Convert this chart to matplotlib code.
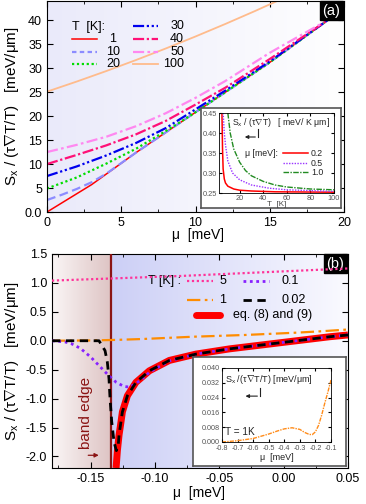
import numpy as np
import matplotlib
matplotlib.use('Agg')
import matplotlib.pyplot as plt
from matplotlib.ticker import MultipleLocator, FixedLocator, FixedFormatter

plt.rcParams['font.family'] = ['Liberation Sans', 'DejaVu Sans']
plt.rcParams['mathtext.fontset'] = 'custom'
plt.rcParams['mathtext.rm'] = 'Liberation Sans'
plt.rcParams['mathtext.it'] = 'Liberation Sans:italic'

# ---- panel (a): S_x/(tau grad T / T) vs mu, several temperatures ----
mu_T1 = [0, 3, 6, 10, 15, 18.9]
S_T1 = [0.0, 5.7, 12.4, 20.8, 31.2, 40.0]
mu_T10 = [0, 1, 2, 3, 4, 6, 10, 15, 18.9]
S_T10 = [2.5, 3.6, 4.8, 6.2, 8.0, 12.4, 20.8, 31.2, 40.0]
mu_T20 = [0, 2, 4, 6, 8, 9, 10, 15, 18.9]
S_T20 = [4.9, 7.2, 10.1, 13.2, 16.9, 18.8, 20.8, 31.2, 40.0]
mu_T30 = [0, 2, 4, 6, 8, 10, 12, 15, 18.9]
S_T30 = [7.5, 9.5, 11.8, 14.4, 17.5, 21.4, 25.3, 31.4, 40.0]
mu_T40 = [0, 2, 4, 6, 8, 10, 12, 15, 18.9]
S_T40 = [10.0, 11.9, 13.9, 16.2, 19.0, 22.4, 25.9, 31.9, 40.0]
mu_T50 = [0, 2, 4, 6, 8, 10, 12, 15, 18.6]
S_T50 = [12.5, 14.0, 15.7, 17.9, 20.6, 23.8, 27.3, 33.2, 39.5]
mu_T100 = [0, 2, 4, 6, 8, 10, 12, 14, 16]
S_T100 = [25.1, 27.2, 29.4, 31.7, 34.1, 36.6, 39.2, 41.9, 44.7]

# inset (a): S_x/(tau grad T) vs T
T_mu02 = [5, 5.5, 6, 7, 8, 10, 15, 20, 30, 50, 100]
S_mu02 = [0.45, 0.36, 0.31, 0.285, 0.275, 0.267, 0.26, 0.257, 0.255, 0.253, 0.252]
T_mu05 = [6, 7, 8, 10, 14, 20, 30, 45, 60, 100]
S_mu05 = [0.45, 0.40, 0.37, 0.33, 0.30, 0.283, 0.27, 0.262, 0.258, 0.254]
T_mu10 = [10, 12, 15, 20, 25, 30, 40, 50, 60, 80, 100]
S_mu10 = [0.45, 0.40, 0.36, 0.327, 0.306, 0.293, 0.279, 0.27, 0.265, 0.26, 0.258]

# ---- panel (b): near the band edge ----
mu_edge = -0.1344
mu_b5 = [-0.18, -0.13, -0.08, -0.03, 0.02, 0.05]
S_b5 = [1.04, 1.08, 1.12, 1.17, 1.22, 1.25]
mu_b1 = [-0.18, -0.15, -0.13, -0.11, -0.09, -0.07, -0.05, -0.03, -0.01, 0.01, 0.03, 0.05]
S_b1 = [0.0, 0.005, 0.015, 0.03, 0.05, 0.07, 0.085, 0.10, 0.12, 0.14, 0.165, 0.195]
mu_b01 = [-0.18, -0.17, -0.165, -0.158, -0.15, -0.143, -0.136, -0.13, -0.124, -0.12,
          -0.116, -0.11, -0.104, -0.089, -0.068, -0.042, -0.016, 0.01, 0.036, 0.05]
S_b01 = [0.0, -0.02, -0.05, -0.13, -0.28, -0.44, -0.60, -0.72, -0.79, -0.80,
         -0.76, -0.66, -0.54, -0.35, -0.23, -0.14, -0.07, 0.0, 0.07, 0.10]
mu_b002 = [-0.18, -0.1435, -0.1388, -0.137, -0.1357, -0.1349, -0.1336, -0.1318, -0.130,
           -0.1285, -0.1279, -0.1253, -0.1214, -0.1148, -0.1044, -0.0888, -0.068, -0.042,
           -0.016, 0.010, 0.036, 0.05]
S_b002 = [0.0, 0.0, -0.17, -0.37, -0.66, -1.0, -1.4, -1.75, -1.9,
          -1.8, -1.63, -1.23, -0.95, -0.72, -0.52, -0.34, -0.23, -0.14,
          -0.07, 0.0, 0.07, 0.10]
mu_eq = [-0.1302, -0.1292, -0.1279, -0.1265, -0.1253, -0.1214, -0.1148, -0.1044,
         -0.0888, -0.068, -0.042, -0.016, 0.010, 0.036, 0.05]
S_eq = [-2.2, -1.9, -1.63, -1.42, -1.23, -0.95, -0.72, -0.52,
        -0.34, -0.23, -0.14, -0.07, 0.0, 0.07, 0.10]

# inset (b): T = 1K, wide mu range
mu_in = [-0.8, -0.7, -0.6, -0.5, -0.45, -0.4, -0.35, -0.3, -0.27, -0.24, -0.22,
         -0.2, -0.18, -0.16, -0.14, -0.12, -0.1]
S_in = [0.0, 0.0007, 0.0019, 0.0043, 0.0058, 0.0071, 0.0077, 0.0068, 0.0052, 0.0041, 0.0040,
        0.0055, 0.009, 0.0145, 0.021, 0.027, 0.0335]

W, H = 366, 504
fig = plt.figure(figsize=(W / 100, H / 100), dpi=100)


def px_axes(l, t, r, b):
    return fig.add_axes([l / W, 1 - b / H, (r - l) / W, (b - t) / H])


def style_ticks(ax, size=9, length=4):
    ax.tick_params(which='both', direction='in', top=True, right=True, labelsize=size)
    ax.tick_params(which='major', length=length)
    ax.tick_params(which='minor', length=length / 2)


def gradient(ax, x0, x1, y0, y1, c0, c1):
    c = np.linspace(np.array(c0) / 255, np.array(c1) / 255, 256)[None, :, :]
    ax.imshow(c, extent=[x0, x1, y0, y1], aspect='auto', zorder=0, interpolation='bilinear')


ylab = 'S$_{\\rm x}$ / (τ$\\nabla$T/T)   [meV/μm]'
GRAY = '#444444'

# ================= panel (a) =================
ax1 = px_axes(47, 1, 344, 212)
gradient(ax1, 0, 20, 0, 44, (234, 234, 250), (255, 255, 255))
ax1.plot(mu_T1, S_T1, color='#ff0000', lw=1.1)
ax1.plot(mu_T10, S_T10, color='#8c8cff', lw=1.6, dashes=(4, 2))
ax1.plot(mu_T20, S_T20, color='#00dd00', lw=1.6, dashes=(1, 1.2))
ax1.plot(mu_T30, S_T30, color='#0000ee', lw=1.6, dashes=(5, 1.2, 1, 1.2, 1, 1.2))
ax1.plot(mu_T40, S_T40, color='#ff1177', lw=1.6, dashes=(5, 1.2, 1, 1.2))
ax1.plot(mu_T50, S_T50, color='#ff88f0', lw=1.6, dashes=(5, 1.5, 1.2, 1.5))
ax1.plot(mu_T100, S_T100, color='#ffbb8c', lw=1.3)
ax1.set_xlim(0, 20)
ax1.set_ylim(0, 44)
ax1.xaxis.set_major_locator(MultipleLocator(5))
ax1.xaxis.set_minor_locator(MultipleLocator(2.5))
ax1.yaxis.set_major_locator(FixedLocator([0, 5, 10, 15, 20, 25, 30, 35, 40]))
ax1.yaxis.set_major_formatter(FixedFormatter(['0.0', '5', '10', '15', '20', '25', '30', '35', '40']))
style_ticks(ax1)
ax1.set_xlabel('μ  [meV]', fontsize=10)
ax1.xaxis.set_label_coords(0.51, -0.075)
ax1.set_ylabel(ylab, fontsize=11)
ax1.yaxis.set_label_coords(-0.088, 0.5)
ax1.text(0.988, 0.988, '(a)', transform=ax1.transAxes, ha='right', va='top', color='white',
         fontsize=10.5, bbox=dict(boxstyle='square,pad=0.2', fc='black', ec='black'))

# legend (a), drawn by hand
def fa(x, y):
    return (x - 47) / 297, (212 - y) / 211

styles_a = [
    (dict(color='#ff0000', lw=1.1), '1', 72, 39),
    (dict(color='#8c8cff', lw=1.6, dashes=(2, 1.5)), '10', 72, 52),
    (dict(color='#00dd00', lw=1.6, dashes=(1, 1.2)), '20', 72, 64),
    (dict(color='#0000ee', lw=1.6, dashes=(5, 1.2, 1, 1.2, 1, 1.2)), '30', 133, 26),
    (dict(color='#ff1177', lw=1.6, dashes=(5, 1.2, 1, 1.2)), '40', 133, 39),
    (dict(color='#ff88f0', lw=1.6, dashes=(5, 1.5, 1.2, 1.5)), '50', 133, 52),
    (dict(color='#ffbb8c', lw=1.3), '100', 133, 64),
]
x0, y0 = fa(72, 27)
ax1.text(x0, y0, 'T  [K]:', transform=ax1.transAxes, fontsize=9, va='center')
for kw, lab, lx, ly in styles_a:
    xa, ya = fa(lx, ly)
    xb, _ = fa(lx + 25, ly)
    ax1.plot([xa, xb], [ya, ya], transform=ax1.transAxes, **kw)
    if lx < 100:
        ax1.text(fa(113, ly)[0], ya, lab, transform=ax1.transAxes, fontsize=9, ha='center', va='center')
    else:
        ax1.text(fa(184, ly)[0], ya, lab, transform=ax1.transAxes, fontsize=9, ha='right', va='center')

# inset (a)
box_a = px_axes(201, 108, 341, 208)
box_a.set_xticks([])
box_a.set_yticks([])
for s in box_a.spines.values():
    s.set_color('#555555')
    s.set_linewidth(1.2)
ins_a = px_axes(219, 113, 334, 193)
ins_a.plot(T_mu02, S_mu02, color='#ff0000', lw=1.1)
ins_a.plot(T_mu05, S_mu05, color='#9933ff', lw=1.0, dashes=(1, 1))
ins_a.plot(T_mu10, S_mu10, color='#228b22', lw=1.0, dashes=(4, 1, 1, 1))
ins_a.set_xlim(2.5, 100)
ins_a.set_ylim(0.25, 0.45)
ins_a.xaxis.set_major_locator(FixedLocator([20, 40, 60, 80, 100]))
ins_a.yaxis.set_major_locator(FixedLocator([0.25, 0.30, 0.35, 0.40, 0.45]))
ins_a.yaxis.set_major_formatter(FixedFormatter(['0.25', '0.30', '0.35', '0.40', '0.45']))
ins_a.tick_params(which='both', direction='in', top=True, right=True, labelsize=5.3,
                  labelcolor='#555555', length=2, pad=1.2)
for s in ins_a.spines.values():
    s.set_linewidth(0.6)
ins_a.set_xlabel('T  [K]', fontsize=5.8, color=GRAY, labelpad=-0.8)
ins_a.text(0.11, 0.88, 'S$_{\\rm x}$ / (τ$\\nabla$T)   [ meV/ K μm]', transform=ins_a.transAxes,
           fontsize=6.3, color='#222222', va='center')
ins_a.annotate('', xy=(0.2, 0.70), xytext=(0.34, 0.70), xycoords='axes fraction',
               arrowprops=dict(arrowstyle='-|>', color='#222222', lw=0.8, mutation_scale=5))
ins_a.plot([0.34, 0.34], [0.70, 0.80], transform=ins_a.transAxes, color='#222222', lw=0.8)
ins_a.text(0.23, 0.50, 'μ [meV]:', transform=ins_a.transAxes, fontsize=6.3, color='#222222', va='center')
for kw, lab, yy in [(dict(color='#ff0000', lw=1.1), '0.2', 0.50),
                    (dict(color='#9933ff', lw=1.0, dashes=(1, 1)), '0.5', 0.375),
                    (dict(color='#228b22', lw=1.0, dashes=(4, 1, 1, 1)), '1.0', 0.26)]:
    ins_a.plot([0.56, 0.77], [yy, yy], transform=ins_a.transAxes, **kw)
    ins_a.text(0.80, yy, lab, transform=ins_a.transAxes, fontsize=6.3, color='#222222', va='center')

# ================= panel (b) =================
ax2 = px_axes(52, 254, 348, 468)
gradient(ax2, -0.18, mu_edge, -2.2, 1.5, (250, 246, 246), (222, 196, 196))
gradient(ax2, mu_edge, 0.05, -2.2, 1.5, (204, 207, 246), (250, 250, 255))
ax2.axvline(mu_edge, color='#8b1414', lw=1.6, zorder=3)
ax2.plot(mu_eq, S_eq, color='#ff0000', lw=5, solid_capstyle='butt', zorder=2)
ax2.plot(mu_b5, S_b5, color='#ff3399', lw=1.6, dashes=(1, 1.2), zorder=4)
ax2.plot(mu_b1, S_b1, color='#ff8c00', lw=1.6, dashes=(6, 2, 1.2, 2), zorder=4)
ax2.plot(mu_b01, S_b01, color='#8822ff', lw=2, dashes=(1, 1.3), zorder=4)
ax2.plot(mu_b002, S_b002, color='black', lw=2, dashes=(3, 2), zorder=4)
ax2.set_xlim(-0.18, 0.05)
ax2.set_ylim(-2.2, 1.5)
ax2.xaxis.set_major_locator(FixedLocator([-0.15, -0.10, -0.05, 0.00, 0.05]))
ax2.xaxis.set_major_formatter(FixedFormatter(['-0.15', '-0.10', '-0.05', '0.00', '0.05']))
ax2.xaxis.set_minor_locator(MultipleLocator(0.025))
ax2.yaxis.set_major_locator(FixedLocator([-2.0, -1.5, -1.0, -0.5, 0.0, 0.5, 1.0, 1.5]))
ax2.yaxis.set_major_formatter(FixedFormatter(['-2.0', '-1.5', '-1.0', '-0.5', '0.0', '0.5', '1.0', '1.5']))
style_ticks(ax2)
ax2.set_xlabel('μ  [meV]', fontsize=10)
ax2.xaxis.set_label_coords(0.497, -0.085)
ax2.set_ylabel(ylab, fontsize=11)
ax2.yaxis.set_label_coords(-0.106, 0.5)
ax2.text(0.988, 0.988, '(b)', transform=ax2.transAxes, ha='right', va='top', color='white',
         fontsize=10.5, bbox=dict(boxstyle='square,pad=0.2', fc='black', ec='black'))
ax2.text(-0.1535, -1.25, 'band edge', rotation=90, color='#8b1414', fontsize=11,
         ha='center', va='center')
ax2.annotate('', xy=(-0.1415, -1.98), xytext=(-0.154, -1.98),
             arrowprops=dict(arrowstyle='-|>', color='#8b1414', lw=0.9, mutation_scale=6))

# legend (b), drawn by hand
def fb(x, y):
    return (x - 52) / 296, (468 - y) / 214

xb0, yb0 = fb(148, 281)
ax2.text(xb0, yb0, 'T [K] :', transform=ax2.transAxes, fontsize=9, va='center')
for kw, lab, lx, ly, tx in [
        (dict(color='#ff3399', lw=1.6, dashes=(1, 1.2)), '5', 187, 281, 223),
        (dict(color='#8822ff', lw=2, dashes=(1, 1.3)), '0.1', 243, 281, 282),
        (dict(color='#ff8c00', lw=1.6, dashes=(6, 2, 1.2, 2)), '1', 187, 300, 223),
        (dict(color='black', lw=2, dashes=(3, 2)), '0.02', 243, 300, 282),
        (dict(color='#ff0000', lw=5, solid_capstyle='round'), 'eq. (8) and (9)', 196, 315, 233)]:
    xa, ya = fb(lx, ly)
    xe, _ = fb(lx + (26 if lab != 'eq. (8) and (9)' else 24), ly)
    ax2.plot([xa, xe], [ya, ya], transform=ax2.transAxes, **kw)
    ax2.text(fb(tx, ly)[0], ya, lab, transform=ax2.transAxes, fontsize=9,
             ha='center' if lab in ('5', '1') else 'left', va='center')

# inset (b)
box_b = px_axes(193, 357, 346, 466)
box_b.set_xticks([])
box_b.set_yticks([])
for s in box_b.spines.values():
    s.set_color('#555555')
    s.set_linewidth(1.2)
ins_b = px_axes(222, 368, 331, 442)
ins_b.plot(mu_in, S_in, color='#ff8c1a', lw=1.0, dashes=(3, 0.8, 1, 0.8))
ins_b.set_xlim(-0.8, -0.1)
ins_b.set_ylim(0, 0.04)
ins_b.xaxis.set_major_locator(FixedLocator([-0.8, -0.7, -0.6, -0.5, -0.4, -0.3, -0.2, -0.1]))
ins_b.xaxis.set_major_formatter(FixedFormatter(['-0.8', '-0.7', '-0.6', '-0.5', '-0.4', '-0.3', '-0.2', '-0.1']))
ins_b.yaxis.set_major_locator(FixedLocator([0, 0.008, 0.016, 0.024, 0.032, 0.040]))
ins_b.yaxis.set_major_formatter(FixedFormatter(['0.000', '0.008', '0.016', '0.024', '0.032', '0.040']))
ins_b.tick_params(which='both', direction='in', top=True, right=True, labelsize=5.2,
                  labelcolor='#555555', length=2, pad=1.5)
ins_b.tick_params(axis='x', pad=2.2)
for s in ins_b.spines.values():
    s.set_linewidth(0.6)
ins_b.set_xlabel('μ  [meV]', fontsize=6.5, color='#222222', labelpad=0.5)
ins_b.text(0.03, 0.85, 'S$_{\\rm x}$ /(τ$\\nabla$T/T) [meV/μm]', transform=ins_b.transAxes,
           fontsize=6.5, color='#222222', va='center')
ins_b.annotate('', xy=(0.19, 0.62), xytext=(0.35, 0.62), xycoords='axes fraction',
               arrowprops=dict(arrowstyle='-|>', color='#222222', lw=0.8, mutation_scale=5))
ins_b.plot([0.35, 0.35], [0.62, 0.73], transform=ins_b.transAxes, color='#222222', lw=0.8)
ins_b.text(0.03, 0.14, 'T = 1K', transform=ins_b.transAxes, fontsize=7.2, color='#222222', va='center')

fig.savefig('out.png', dpi=100)
